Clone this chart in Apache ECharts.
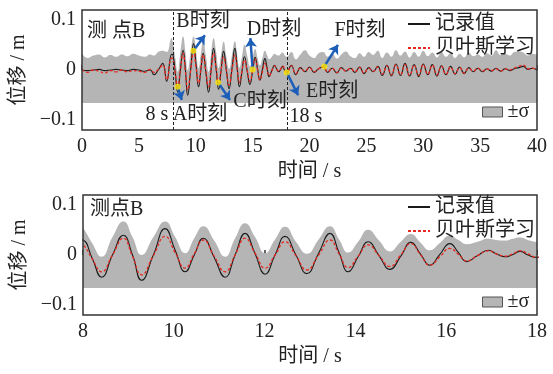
<!DOCTYPE html>
<html><head><meta charset="utf-8">
<script src="https://cdn.jsdelivr.net/npm/echarts@6/dist/echarts.min.js"></script>
<style>html,body{margin:0;padding:0;background:#fff}#c{width:553px;height:374px}</style>
</head><body><div id="c"></div>
<script>
// ---------- data ----------
const time = [
  0,0.5,1,1.5,2,2.5,3,3.5,4,4.5,5,5.5,6,6.33,6.7,7.1,7.44,7.88,
  8,8.2,8.41,8.65,8.89,9.09,9.29,9.55,9.81,10.03,10.25,10.45,10.65,10.89,11.13,11.35,11.57,11.79,
  12.01,12.23,12.45,12.69,12.93,13.19,13.44,13.64,13.84,14.06,14.28,14.52,14.76,15,15.22,15.43,15.64,15.86,
  16.08,16.27,16.45,16.69,16.93,17.1,17.3,17.47,17.63,17.8,
  18,18.4,18.8,19.2,19.6,20,20.4,20.8,21.2,21.6,22,22.4,22.8,23.2,23.6,24,24.4,24.8,25.2,25.6,26,
  26.4,26.8,27.2,27.6,28,28.4,28.8,29.2,29.6,30,30.4,30.8,31.2,31.6,32,32.4,32.8,33.2,33.6,34,
  34.4,34.8,35.2,35.6,36,36.4,36.8,37.2,37.6,38,38.4,38.8,39.2,39.6,40
];
const recorded = [
  0,-0.001,0,0.001,-0.001,0,0.001,0,-0.001,0.001,0,-0.002,0,-0.008,0,0.011,-0.019,0.026,
  0.025,-0.005,-0.037,0,0.033,0,-0.042,0,0.044,0.008,-0.028,0,0.028,-0.004,-0.037,0,0.036,0.002,
  -0.032,0,0.031,0,-0.031,0.003,0.036,0.004,-0.028,-0.003,0.022,-0.001,-0.024,-0.002,0.021,0.002,-0.017,0.001,
  0.019,0.004,-0.011,-0.001,0.008,0.002,-0.003,0.001,0.006,0,
  -0.004,0.008,-0.008,0.004,-0.003,0.005,-0.004,0.002,0.005,-0.004,0.003,-0.005,0.004,-0.002,0.003,-0.004,0.005,-0.006,0.004,-0.003,0.006,
  -0.009,0.008,-0.01,0.01,-0.009,0.011,-0.01,0.009,-0.011,0.01,-0.008,0.009,-0.01,0.007,-0.008,0.006,-0.007,0.005,-0.006,0.004,
  -0.003,0.003,-0.003,0.002,-0.002,0.003,-0.002,0.002,-0.001,0.002,0.004,0.006,0.001,0.003,0
];
const bayes = [
  0.001,-0.004,0,-0.002,-0.005,-0.001,-0.003,0,-0.003,-0.001,-0.002,-0.004,0.001,-0.004,0.001,0.008,-0.016,0.02,
  0.017,-0.006,-0.028,0,0.028,-0.002,-0.033,-0.001,0.031,0.004,-0.022,0.002,0.025,-0.002,-0.028,0,0.028,0.003,
  -0.022,0,0.022,-0.001,-0.025,0,0.025,0.002,-0.021,-0.002,0.017,-0.001,-0.019,0,0.019,0.001,-0.017,-0.003,
  0.011,0.001,-0.01,-0.001,0.007,0.002,-0.002,0.002,0.007,0.002,
  -0.004,0.007,-0.006,0.003,-0.002,0.004,-0.003,0.002,0.006,-0.003,0.003,-0.004,0.003,-0.002,0.003,-0.003,0.004,-0.005,0.003,-0.002,0.005,
  -0.007,0.007,-0.008,0.009,-0.008,0.009,-0.009,0.008,-0.009,0.009,-0.007,0.008,-0.008,0.006,-0.007,0.005,-0.006,0.004,-0.005,0.003,
  -0.002,0.003,-0.002,0.002,-0.001,0.002,-0.002,0.002,0,0.003,0.006,0.008,0.002,0.003,0.001
];
const sigmaUpper = [
  0.028,0.02,0.024,0.026,0.021,0.025,0.022,0.026,0.023,0.027,0.024,0.022,0.026,0.024,0.03,0.032,0.03,0.053,
  0.045,0.02,-0.003,0.03,0.056,0.03,0,0.03,0.056,0.03,0.003,0.028,0.048,0.024,-0.003,0.028,0.053,0.03,
  0.003,0.026,0.047,0.022,0.002,0.026,0.048,0.026,0.004,0.022,0.042,0.024,0.006,0.022,0.035,0.021,0.008,0.02,
  0.032,0.025,0.018,0.022,0.027,0.025,0.024,0.027,0.029,0.025,
  0.022,0.03,0.018,0.026,0.033,0.024,0.02,0.028,0.03,0.022,0.027,0.019,0.026,0.031,0.023,0.02,0.028,0.022,0.03,0.025,0.032,
  0.02,0.029,0.022,0.033,0.024,0.031,0.021,0.03,0.022,0.032,0.023,0.029,0.021,0.03,0.022,0.028,0.02,0.027,0.021,0.029,
  0.023,0.026,0.022,0.028,0.024,0.033,0.025,0.027,0.024,0.03,0.031,0.029,0.024,0.027,0.025
];
const sigmaLower = -0.055;

const dotT = [8.41, 9.79, 11.98, 15.0, 18.0, 21.3];
const dotV = [-0.028, 0.032, -0.021, 0.001, -0.004, 0.006];
const arrowEndT = [8.77, 10.81, 13.01, 14.8, 19.0, 22.5];
const arrowEndV = [-0.05, 0.058, -0.05, 0.053, -0.042, 0.042];
const momentLabels = ['A时刻','B时刻','C时刻','D时刻','E时刻','F时刻'];
const momentLabelT = [10.37, 10.64, 15.65, 16.88, 21.98, 24.44];
const momentLabelV = [-0.075, 0.081, -0.053, 0.067, -0.037, 0.065];
const markTimes = [8, 18];
const markLabels = ['8 s', '18 s'];
const markLabelT = [6.59, 19.69];
const markLabelV = [-0.075, -0.078];

// ---------- chart ----------
const FONT = "'Liberation Serif','Noto Sans CJK SC',serif";
const TXT = '#222';
const chart = echarts.init(document.getElementById('c'), null, {renderer:'canvas'});
const pair = arr => time.map((t, i) => [t, arr[i]]);

function yAxis(gi) {
  return {
    type:'value', gridIndex: gi, min:-0.1, max:0.1, interval:0.1,
    axisLine:{show:false}, axisTick:{show:false}, splitLine:{show:false},
    axisLabel:{
      fontSize:20, fontFamily:FONT, color:TXT, margin:6,
      verticalAlignMaxLabel:'top', verticalAlignMinLabel:'bottom',
      formatter: v => Math.abs(v) < 1e-9 ? '0' : (v < 0 ? '\u2212' : '') + Math.abs(v).toFixed(1)
    },
    name:'位移 / m', nameLocation:'middle', nameGap:46, nameRotate:90,
    nameTextStyle:{fontSize:20, fontFamily:FONT, color:TXT}
  };
}
function xAxis(gi, min, max, interval) {
  return {
    type:'value', gridIndex: gi, min, max, interval,
    axisLine:{show:false}, splitLine:{show:false},
    axisTick:{show:true, inside:true, length:5, lineStyle:{color:'#333', width:1.5}},
    axisLabel:{fontSize:20, fontFamily:FONT, color:TXT, margin:7},
    name:'时间 / s', nameLocation:'middle', nameGap:32,
    nameTextStyle:{fontSize:20, fontFamily:FONT, color:TXT}
  };
}
function bandSeries(gi) {
  return {
    type:'line', name:'±σ', xAxisIndex:gi, yAxisIndex:gi, data: pair(sigmaUpper),
    smooth:0.5, symbol:'none', lineStyle:{width:0},
    itemStyle:{color:'#b5b5b5'},
    areaStyle:{color:'#b5b5b5', opacity:1, origin: sigmaLower},
    z:1, silent:true
  };
}
function recSeries(gi, extra) {
  return Object.assign({
    type:'line', name:'记录值', xAxisIndex:gi, yAxisIndex:gi, data: pair(recorded),
    smooth:0.5, symbol:'none', itemStyle:{color:'#1a1a1a'},
    lineStyle:{color:'#1a1a1a', width:1.1}, z:3
  }, extra || {});
}
function bayesSeries(gi) {
  return {
    type:'line', name:'贝叶斯学习', xAxisIndex:gi, yAxisIndex:gi, data: pair(bayes),
    smooth:0.5, symbol:'none', itemStyle:{color:'#e8281e'},
    lineStyle:{color:'#e8281e', width:1.3, type:[3,2]}, z:4
  };
}
const legendText = {fontSize:20, fontFamily:FONT, color:TXT};
function lineLegend(top) {
  return {data:['记录值','贝叶斯学习'], orient:'vertical', left:407, top, padding:0,
    itemWidth:22, itemHeight:12, itemGap:4, textStyle:legendText, selectedMode:false,
    itemStyle:{opacity:0, borderWidth:0}};
}
function bandLegend(top) {
  return {data:[{name:'±σ', icon:'rect', itemStyle:{color:'#b5b5b5', borderColor:'#555', borderWidth:1}}],
    left:482, top, padding:0, itemWidth:20, itemHeight:10, textStyle:legendText, selectedMode:false};
}

const option = {
  animation:false,
  backgroundColor:'#fff',
  title:[
    {text:'测 点B', left:87, top:22, padding:0, textStyle:{fontSize:20, fontWeight:'normal', fontFamily:FONT, color:TXT}},
    {text:'测点B', left:90, top:200, padding:0, textStyle:{fontSize:20, fontWeight:'normal', fontFamily:FONT, color:TXT}}
  ],
  grid:[
    {left:82, right:16, top:10, height:120, show:true, borderColor:'#333', borderWidth:1.5, backgroundColor:'transparent', z:10},
    {left:83, right:16, top:195, height:120, show:true, borderColor:'#333', borderWidth:1.5, backgroundColor:'transparent', z:10}
  ],
  xAxis:[xAxis(0, 0, 40, 5), xAxis(1, 8, 18, 2)],
  yAxis:[yAxis(0), yAxis(1)],
  legend:[lineLegend(14), bandLegend(102), lineLegend(197), bandLegend(292)],
  series:[
    bandSeries(0),
    recSeries(0, {markLine:{silent:true, symbol:'none', label:{show:false},
      lineStyle:{color:'#222', width:1, type:[3,2]},
      data: markTimes.map(t => ({xAxis:t}))}}),
    bayesSeries(0),
    {type:'lines', coordinateSystem:'cartesian2d', xAxisIndex:0, yAxisIndex:0, z:5, silent:true,
      symbol:['none','arrow'], symbolSize:9,
      lineStyle:{color:'#1d5fb8', width:2.5, opacity:1},
      data: dotT.map((t, i) => ({coords:[[t, dotV[i]], [arrowEndT[i], arrowEndV[i]]]}))},
    {type:'scatter', xAxisIndex:0, yAxisIndex:0, z:6, symbolSize:6, silent:true,
      itemStyle:{color:'#ffe600'}, data: dotT.map((t, i) => [t, dotV[i]])},
    bandSeries(1),
    recSeries(1),
    bayesSeries(1)
  ]
};
chart.setOption(option);

const g = [];
const addText = (text, t, v) => {
  const p = chart.convertToPixel({gridIndex:0}, [t, v]);
  g.push({type:'text', x:p[0], y:p[1], z:20,
    style:{text, fontSize:20, fontFamily:FONT, fill:TXT, align:'center', verticalAlign:'middle'}});
};
momentLabels.forEach((s, i) => addText(s, momentLabelT[i], momentLabelV[i]));
markLabels.forEach((s, i) => addText(s, markLabelT[i], markLabelV[i]));
chart.setOption({graphic: g});
</script>
</body></html>
